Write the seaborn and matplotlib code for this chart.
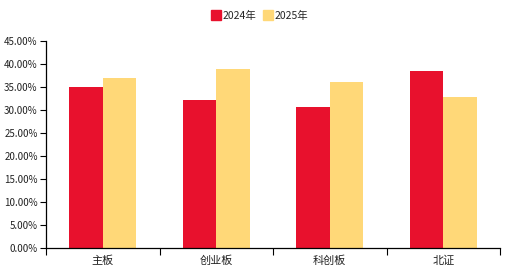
import matplotlib
matplotlib.use("Agg")
import matplotlib.pyplot as plt
import seaborn as sns
import pandas as pd
from matplotlib.ticker import FuncFormatter, FixedLocator
from matplotlib.lines import Line2D

categories = ["主板", "创业板", "科创板", "北证"]
years = ["2024年", "2025年"]
values_2024 = [34.9, 32.2, 30.6, 38.5]
values_2025 = [36.9, 38.9, 36.1, 32.7]
colors = ["#E8112D", "#FFD878"]

df = pd.DataFrame({
    "cat": categories * 2,
    "year": [years[0]] * 4 + [years[1]] * 4,
    "val": values_2024 + values_2025,
})

sns.set_theme(style="white")
plt.rcParams["font.family"] = ["Noto Sans CJK SC", "DejaVu Sans"]

fig = plt.figure(figsize=(5.19, 2.79), dpi=100)
ax = fig.add_axes([46 / 519, 1 - 247.5 / 279, 454 / 519, 206.5 / 279])

sns.barplot(data=df, x="cat", y="val", hue="year", order=categories,
            hue_order=years, palette=colors, width=0.59, gap=0,
            saturation=1, ax=ax, legend=False, linewidth=0, edgecolor="none")

ax.set_xlim(-0.5, 3.5)
ax.set_ylim(0, 45)
ax.set_yticks([i * 5 for i in range(10)])
ax.yaxis.set_major_formatter(FuncFormatter(lambda v, p: f"{v:.2f}%"))
ax.set_xlabel("")
ax.set_ylabel("")

ax.xaxis.set_major_locator(FixedLocator([-0.5, 0.5, 1.5, 2.5, 3.5]))
ax.xaxis.set_minor_locator(FixedLocator([0, 1, 2, 3]))
ax.set_xticklabels([], minor=False)
ax.set_xticklabels(categories, minor=True)
ax.tick_params(axis="x", which="major", length=5, width=0.8, color="black", direction="out", bottom=True)
ax.tick_params(axis="x", which="minor", length=0, labelsize=8, pad=6, colors="#222222", bottom=True)
ax.tick_params(axis="y", length=4, width=0.8, color="black", direction="out", left=True, labelsize=7, pad=2, labelcolor="#222222")

for s in ["top", "right"]:
    ax.spines[s].set_visible(False)
for s in ["left", "bottom"]:
    ax.spines[s].set_color("black")
    ax.spines[s].set_linewidth(0.9)
ax.grid(False)

handles = [Line2D([0], [0], marker="s", linestyle="none", markersize=7,
                  markerfacecolor=c, markeredgecolor=c) for c in colors]
fig.legend(handles, years, loc="center", bbox_to_anchor=(0.5, 1 - 16 / 279),
           ncol=2, frameon=False, fontsize=7.5, handletextpad=0.1,
           columnspacing=0.6, handlelength=1.0)

fig.savefig("out.png", dpi=100)
